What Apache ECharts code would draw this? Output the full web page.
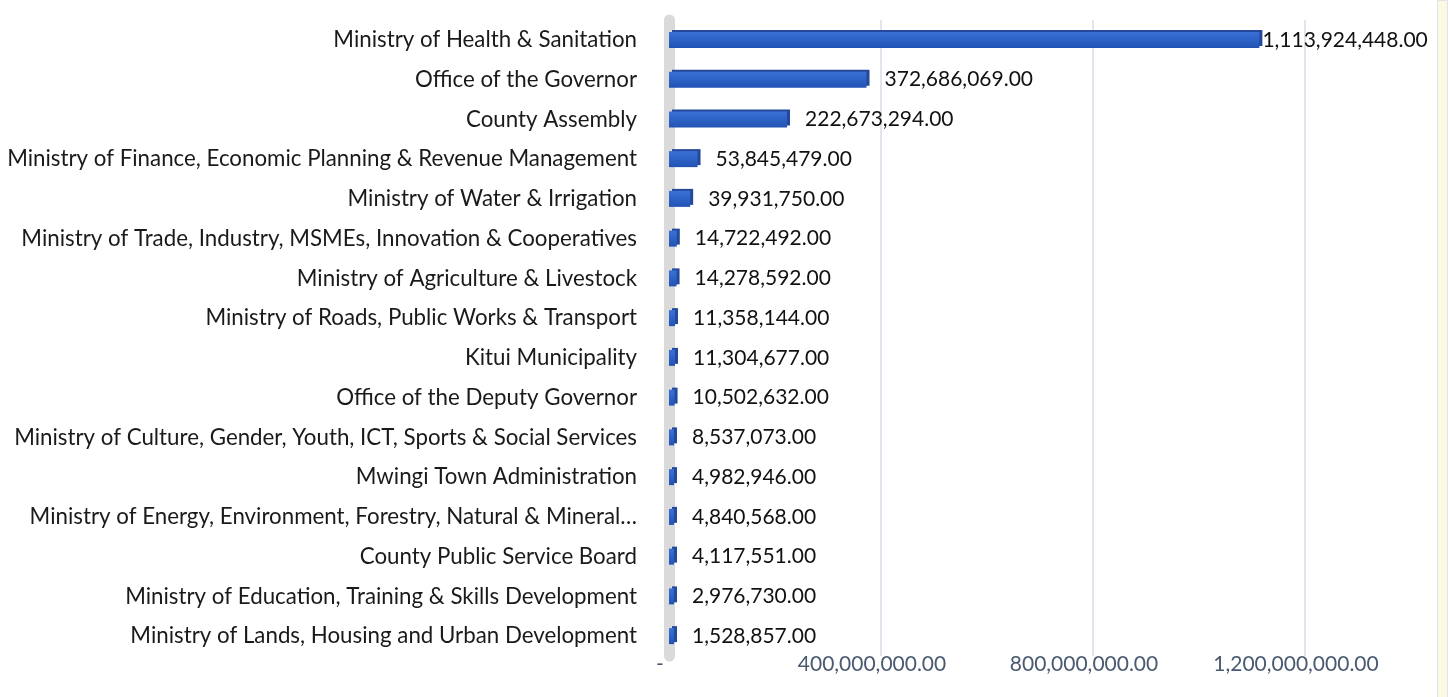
<!DOCTYPE html>
<html>
<head>
<meta charset="utf-8">
<script src="https://cdn.jsdelivr.net/npm/echarts@6/dist/echarts.min.js"></script>
<style>
  html, body { margin: 0; padding: 0; background: #fff; }
  #chart { width: 1448px; height: 697px; }
</style>
</head>
<body>
<div id="chart"></div>
<script>
// departments, top to bottom
const departments = [
  'Ministry of Health & Sanitation',
  'Office of the Governor',
  'County Assembly',
  'Ministry of Finance, Economic Planning & Revenue Management',
  'Ministry of Water & Irrigation',
  'Ministry of Trade, Industry, MSMEs, Innovation & Cooperatives',
  'Ministry of Agriculture & Livestock',
  'Ministry of Roads, Public Works & Transport',
  'Kitui Municipality',
  'Office of the Deputy Governor',
  'Ministry of Culture, Gender, Youth, ICT, Sports & Social Services',
  'Mwingi Town Administration',
  'Ministry of Energy, Environment, Forestry, Natural & Mineral\u2026',
  'County Public Service Board',
  'Ministry of Education, Training & Skills Development',
  'Ministry of Lands, Housing and Urban Development'
]
const amounts = [
  1113924448, 372686069, 222673294, 53845479, 39931750, 14722492,
  14278592, 11358144, 11304677, 10502632, 8537073, 4982946,
  4840568, 4117551, 2976730, 1528857
]
const axisTicks = [0, 400000000, 800000000, 1200000000]

const fmt = v => v.toLocaleString('en-US', { minimumFractionDigits: 2, maximumFractionDigits: 2 })

const chart = echarts.init(document.getElementById('chart'))
const maxVal = Math.max(...amounts)

chart.setOption({
  animation: false,
  textStyle: { fontFamily: 'Lato' },
  graphic: [
    {
      type: 'rect',
      right: 0,
      top: 0,
      shape: { width: 10, height: 697 },
      style: { fill: '#fcf9e2', stroke: '#dfe3ec', lineWidth: 1 }
    }
  ],
  grid: { left: 669, right: 143, top: 20, bottom: 41 },
  xAxis: {
    type: 'value',
    min: axisTicks[0],
    max: axisTicks[axisTicks.length - 1],
    interval: axisTicks[1] - axisTicks[0],
    axisLine: { show: false },
    axisTick: { show: false },
    splitLine: { lineStyle: { color: '#d9dde8', width: 1.5 } },
    axisLabel: {
      color: '#4a5a70',
      fontSize: 21,
      margin: -2,
      padding: [0, 18, 0, 0],
      formatter: v => (v === 0 ? '-' : fmt(v))
    }
  },
  yAxis: {
    type: 'category',
    inverse: true,
    data: departments,
    axisTick: { show: false },
    axisLine: { lineStyle: { color: '#dadada', width: 11 } },
    axisLabel: { color: '#1a1a1a', fontSize: 22.3, margin: 32 }
  },
  series: [
    {
      type: 'bar',
      barWidth: 16,
      barMinHeight: 5,
      data: amounts.map(v => ({
        value: v,
        label: { distance: v === maxVal ? 3 : 18 }
      })),
      itemStyle: {
        color: {
          type: 'linear', x: 0, y: 0, x2: 0, y2: 1,
          colorStops: [
            { offset: 0, color: '#3a70d6' },
            { offset: 1, color: '#2253b4' }
          ]
        },
        shadowColor: '#24499a',
        shadowOffsetX: 3,
        shadowOffsetY: -2,
        shadowBlur: 0
      },
      label: {
        show: true,
        position: 'right',
        color: '#111',
        fontSize: 21,
        formatter: p => fmt(p.value)
      }
    }
  ]
})
</script>
</body>
</html>
